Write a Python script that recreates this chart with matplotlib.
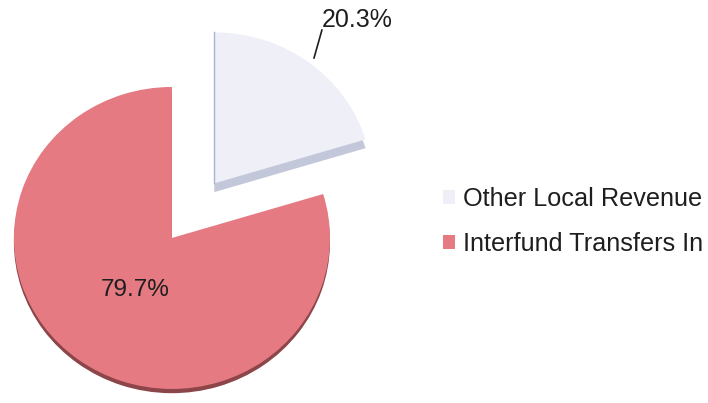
import matplotlib.pyplot as plt
import numpy as np

# data
categories = ["Other Local Revenue", "Interfund Transfers In"]
shares = [20.3, 79.7]
pct_labels = ["20.3%", "79.7%"]

top_colors = ["#efeff8", "#e57a82"]
side_colors = ["#c3c7da", "#8c4548"]
explode = [0.45, 0.0]

plt.rcParams['font.family'] = ['Liberation Sans', 'DejaVu Sans']

fig = plt.figure(figsize=(7.08, 4.03), dpi=100)
ax = fig.add_axes([0, 0, 1, 1])

# side (depth) of the small slice - thicker
ax.pie(shares, explode=explode, colors=[side_colors[0], 'none'], startangle=90,
       counterclock=False, center=(0, -0.058), frame=True,
       wedgeprops=dict(linewidth=0))
# side (depth) of the big slice - thin
ax.pie(shares, explode=explode, colors=['none', side_colors[1]], startangle=90,
       counterclock=False, center=(0, -0.028), frame=True,
       wedgeprops=dict(linewidth=0))
# top face
wedges, _ = ax.pie(shares, explode=explode, colors=top_colors, startangle=90,
                   counterclock=False, center=(0, 0), frame=True,
                   wedgeprops=dict(linewidth=0))

# thin bluish edge on the cut side of the small slice
th = np.deg2rad(90 - shares[0] / sum(shares) * 180)
cx, cy = explode[0] * np.cos(th), explode[0] * np.sin(th)
ax.plot([cx, cx], [cy, cy + 1.0], color='#aab3d0', lw=1.0)

ax.set_aspect('auto')
ax.set_xlim(-1.088, 3.392)
ax.set_ylim(-1.093, 1.576)
ax.axis('off')

# labels
ax.text(1.17, 1.444, pct_labels[0], fontsize=18, ha='center', va='center',
        color='#1e1e1e')
ax.plot([0.899, 0.949], [1.192, 1.377], color='#1e1e1e', lw=1.2)
ax.text(-0.234, -0.344, pct_labels[1], fontsize=17.5, ha='center',
        va='center', color='#1e1e1e')

leg = ax.legend(wedges, categories, loc='center left',
                bbox_to_anchor=(0.626, 0.45), bbox_transform=fig.transFigure,
                frameon=False, fontsize=18.2, handlelength=0.48,
                handleheight=0.48, handletextpad=0.3, labelspacing=0.85,
                borderpad=0, borderaxespad=0)
for t in leg.get_texts():
    t.set_color('#1e1e1e')

fig.savefig("out.png", dpi=100)
